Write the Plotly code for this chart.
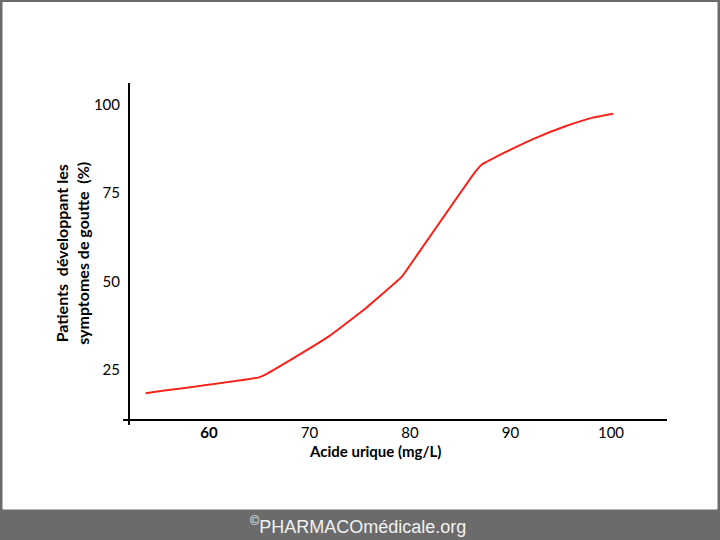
import plotly.graph_objects as go

# courbe : acide urique (mg/L) vs % de patients avec symptomes
acide = [53.7, 64.9, 65.7, 68.7, 72.0, 75.4, 79.2, 79.8, 86.5, 87.1, 89.0, 92.3, 95.6, 98.2, 100.2]
patients = [18.4, 22.8, 23.8, 28.8, 34.6, 42.0, 51.4, 53.8, 81.1, 83.0, 85.9, 90.4, 94.1, 96.4, 97.5]

x_ticks = [60, 70, 80, 90, 100]
x_labels = ['<b>60</b>', '70', '80', '90', '100']
y_ticks = [25, 50, 75, 100]
y_labels = ['25', '50', '75', '100']

fig = go.Figure()
fig.add_trace(go.Scatter(x=acide, y=patients, mode='lines', line=dict(color='#f8221a', width=2, shape='spline', smoothing=0.3)))

fig.update_layout(
    width=720, height=540,
    margin=dict(l=129, r=53, t=83, b=120),
    paper_bgcolor='#6b6b6b', plot_bgcolor='rgba(0,0,0,0)',
    showlegend=False,
    font=dict(family='Lato', size=15, color='black'),
)
fig.update_xaxes(range=[52.04, 105.57], tickvals=x_ticks, ticktext=x_labels, showgrid=False, zeroline=False,
                 showline=False, ticks='', ticklabelstandoff=2)
fig.update_yaxes(range=[10.8, 106.2], tickvals=y_ticks, ticktext=y_labels, showgrid=False, zeroline=False,
                 showline=False, ticks='', ticklabelstandoff=8)

# fond blanc dans le cadre gris
fig.add_shape(type='rect', xref='paper', yref='paper', layer='below',
              x0=(2.5 - 129) / 538, x1=(717.5 - 129) / 538, y0=(420 - 509.5) / 337, y1=(420 - 2) / 337,
              line=dict(width=0), fillcolor='white')

# axes
fig.add_shape(type='line', xref='x domain', yref='y domain', x0=0, x1=0, y0=-0.015, y1=1, line=dict(color='black', width=2))
fig.add_shape(type='line', xref='x domain', yref='y domain', x0=-0.011, x1=1, y0=0, y1=0, line=dict(color='black', width=2))

# titres
fig.add_annotation(text='<b>Acide urique (mg/L)</b>', xref='paper', yref='paper', x=0.457, y=-0.092,
                   xanchor='center', yanchor='middle', showarrow=False, font=dict(size=15))
fig.add_annotation(text='<b>Patients  développant les<br>symptomes de goutte  (%)</b>', xref='paper', yref='paper',
                   x=-0.106, y=0.496, xanchor='center', yanchor='middle', textangle=-90, showarrow=False,
                   font=dict(size=16))

# bandeau
fig.add_annotation(text='<sup>©</sup>PHARMACOmédicale.org', xref='paper', yref='paper', x=229/538, y=-105/337,
                   xanchor='center', yanchor='middle', showarrow=False,
                   font=dict(family='Liberation Sans', size=18, color='#f2f2f2'))

fig.write_html("out.html", config={'displayModeBar': False}, post_script="document.body.style.margin='0';")
